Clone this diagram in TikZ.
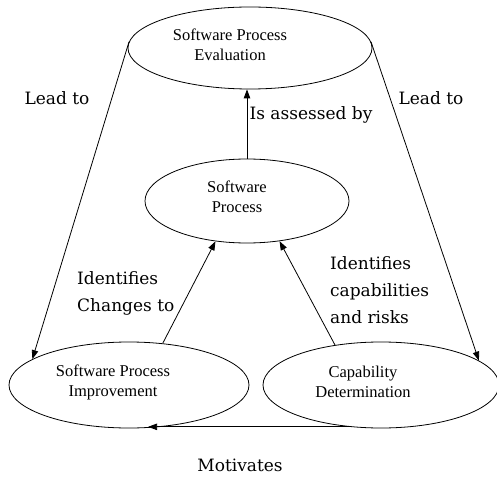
\documentclass[tikz,border=0pt]{standalone}
\usepackage{fontspec}
\setmainfont{Liberation Serif}
\newfontfamily\lblfont{DejaVu Serif}
\usetikzlibrary{shapes.geometric,arrows.meta}
\tikzset{
  proc/.style={draw, ellipse, inner sep=0pt, line width=0.8pt},
  proctext/.style={inner sep=0pt, align=center, font=\fontsize{16.5}{20}\selectfont},
  lbl/.style={inner sep=0pt, font=\lblfont\fontsize{17}{27}\selectfont},
  conn/.style={line width=0.8pt, -{Triangle[length=9pt,width=6.5pt]}}
}
\begin{document}
\begin{tikzpicture}[x=1pt,y=-1pt]
\useasboundingbox (0,0) rectangle (497,478);
\node[proc, minimum width=244pt, minimum height=82pt] (T) at (250,48) {};
\node[proc, minimum width=204pt, minimum height=84pt] (M) at (247,201) {};
\node[proc, minimum width=240pt, minimum height=86pt] (L) at (129,385) {};
\node[proc, minimum width=236pt, minimum height=86pt] (R) at (381,385) {};
\node[proctext] (Tt) at (230,45) {Software Process\\Evaluation};
\node[proctext] (Mt) at (237,197) {Software\\Process};
\node[proctext] (Lt) at (113,382) {Software Process\\Improvement};
\node[proctext] (Rt) at (363,382) {Capability\\Determination};

\draw[conn] (M.north) -- (M.north |- T.south);
\draw[conn] (T.177) -- (L.165);
\draw[conn] (T.3) -- (R.14);
\draw[conn] (L.51) -- (M.232);
\draw[conn] (R.139) -- (M.309);
\draw[conn] (R.233) -- (R.233 -| L.294);

\node[lbl] (l1) at (57,98) {Lead to};
\node[lbl] (l2) at (431,98) {Lead to};
\node[lbl] (l3) at (311,115) {Is assessed by};
\node[lbl, align=left, anchor=west] (l4) at (77,293) {Identifies\\Changes to};
\node[lbl, align=left, anchor=west] (l5) at (330,290) {Identifies\\capabilities\\and risks};
\node[lbl] (l6) at (240,465) {Motivates};
\end{tikzpicture}
\end{document}
